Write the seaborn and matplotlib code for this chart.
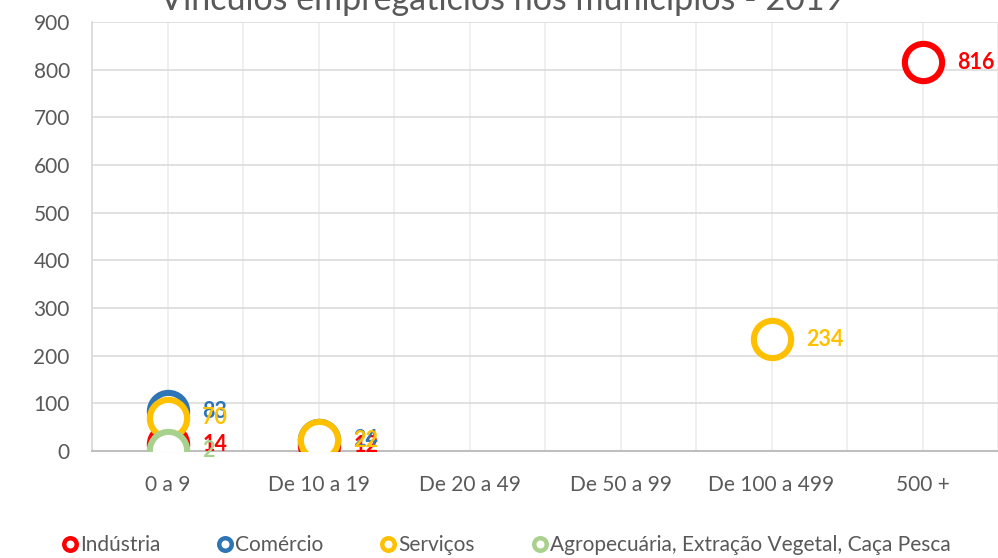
import pandas as pd
import matplotlib.pyplot as plt
import seaborn as sns
from matplotlib.ticker import MultipleLocator
from matplotlib.lines import Line2D

# Data
categories = ["0 a 9", "De 10 a 19", "De 20 a 49", "De 50 a 99", "De 100 a 499", "500 +"]
series_names = ["Indústria", "Comércio", "Serviços", "Agropecuária, Extração Vegetal, Caça Pesca"]
industria = [14, 12, None, None, None, 816]
comercio = [83, 24, None, None, None, None]
servicos = [70, 22, None, None, 234, None]
agro = [2, None, None, None, None, None]
colors = ["#FF0000", "#2E75B6", "#FFC000", "#A9D18E"]

sns.set_theme(style="white")
plt.rcParams['font.family'] = ['Lato', 'DejaVu Sans']
grey = "#595959"

rows = []
for name, vals in zip(series_names, [industria, comercio, servicos, agro]):
    for i, (cat, v) in enumerate(zip(categories, vals)):
        rows.append({"faixa": cat, "pos": i, "serie": name, "valor": v})
df = pd.DataFrame(rows)

fig = plt.figure(figsize=(9.98, 5.58), dpi=100)
ax = fig.add_axes([0.0922, 0.1918, 0.9078, 0.7688])

for name, col in zip(series_names, colors):
    sub = df[df["serie"] == name].dropna()
    sns.scatterplot(data=sub, x="pos", y="valor", ax=ax, s=720, marker="o",
                    facecolor="white", edgecolor=col, linewidth=4.4, zorder=3,
                    legend=False)
    for _, r in sub.iterrows():
        ax.annotate(f"{int(r['valor'])}", (r["pos"], r["valor"]),
                    xytext=(25, 0), textcoords="offset points", ha="left", va="center",
                    color=col, fontsize=15.5, fontweight="bold", zorder=4)

ax.set_xlim(-0.5, 5.5)
ax.set_ylim(0, 900)
ax.set_xticks(range(len(categories)))
ax.set_xticklabels(categories)
ax.xaxis.set_minor_locator(MultipleLocator(0.5))
ax.yaxis.set_major_locator(MultipleLocator(100))
ax.grid(axis="y", color="#d9d9d9", linewidth=1.1)
ax.grid(axis="x", which="both", color="#ececec", linewidth=1.1)
ax.set_axisbelow(True)
ax.tick_params(axis="both", which="both", length=0, labelsize=15, labelcolor=grey)
ax.tick_params(axis="y", pad=16)
ax.tick_params(axis="x", pad=17)
ax.set_xlabel("")
ax.set_ylabel("")
for s in ["top", "right"]:
    ax.spines[s].set_visible(False)
ax.spines["left"].set_color("#d9d9d9")
ax.spines["bottom"].set_color("#bfbfbf")
ax.spines["bottom"].set_linewidth(1.5)

fig.text(0.503, 1 - 10 / 558, "Vínculos empregatícios nos municípios - 2019",
         ha="center", va="baseline", fontsize=24.5, color=grey)

handles = [Line2D([], [], marker="o", linestyle="none", markersize=9,
                  markerfacecolor="white", markeredgecolor=c, markeredgewidth=3.2)
           for c in colors]
fig.legend(handles, series_names, loc="center", bbox_to_anchor=(0.507, 1 - 545 / 558),
           ncol=4, frameon=False, fontsize=15, labelcolor=grey, handletextpad=0.1,
           columnspacing=2.7, handlelength=0.8)

fig.savefig("out.png", dpi=100)
